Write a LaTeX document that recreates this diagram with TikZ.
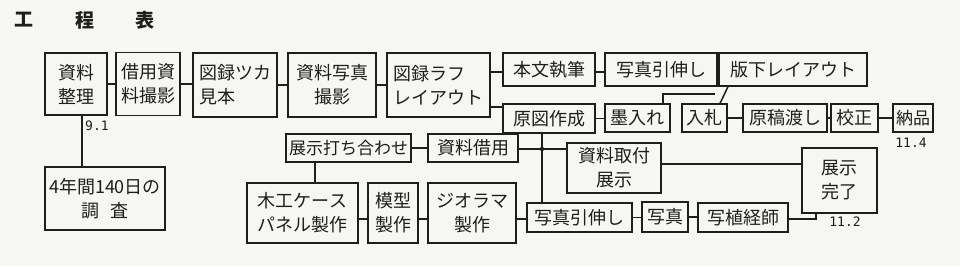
\documentclass[tikz,border=0pt]{standalone}
\usepackage{fontspec}
\newfontfamily\jp{Noto Sans CJK JP}
\newfontfamily\num{DejaVu Sans Mono}
\definecolor{paper}{RGB}{246,246,242}
\definecolor{ink}{RGB}{30,30,30}
\begin{document}
\begin{tikzpicture}[x=1pt,y=-1pt,
  box/.style={draw=ink, line width=1.2pt, inner sep=0pt, align=center, text=ink,
    font=\jp\fontsize{18}{24}\selectfont},
  lbox/.style={box, align=left},
  conn/.style={draw=ink, line width=1.5pt},
  datelbl/.style={inner sep=0pt, text=ink, font=\num\fontsize{13}{14}\selectfont},
  ttl/.style={inner sep=0pt, text=ink, font=\jp\bfseries\fontsize{19}{20}\selectfont}]
\useasboundingbox (0,0) rectangle (960,266);
\fill[paper] (0,0) rectangle (960,266);
% title
\node[ttl] (t1) at (24,20) {工};
\node[ttl] (t2) at (85,20) {程};
\node[ttl] (t3) at (145,20) {表};
% top row
\node[box, minimum width=62pt, minimum height=62pt] (A) at (76,84) {資料\\整理};
\node[box, minimum width=64pt, minimum height=63pt] (B) at (148,84) {借用資\\料撮影};
\node[lbox, minimum width=84pt, minimum height=64pt] (C) at (235,85) {図録ツカ\\見本};
\node[box, minimum width=88pt, minimum height=64pt] (D) at (332,85) {資料写真\\撮影};
\node[lbox, minimum width=103pt, minimum height=64pt] (E) at (438.5,85) {図録ラフ\\レイアウト};
\node[box, minimum width=92pt, minimum height=33pt] (F) at (549,69.5) {本文執筆};
\node[box, minimum width=92pt, minimum height=29pt] (G) at (549,118.5) {原図作成};
\node[box, minimum width=112pt, minimum height=33pt] (H) at (661,69.5) {写真引伸し};
\node[box, minimum width=148pt, minimum height=33pt] (I) at (793,69.5) {版下レイアウト};
\node[box, minimum width=65pt, minimum height=28pt] (J) at (637.5,118) {墨入れ};
\node[box, minimum width=45pt, minimum height=28pt] (K) at (704.5,118) {入札};
\node[box, minimum width=84pt, minimum height=28pt] (L) at (785,118) {原稿渡し};
\node[box, minimum width=47pt, minimum height=28pt] (M) at (854.5,118) {校正};
\node[box, minimum width=40pt, minimum height=28pt, font=\jp\fontsize{17}{20}\selectfont] (N) at (913,118) {納品};
% lower part
\node[box, minimum width=120pt, minimum height=63pt] (O) at (105,198.5) {4年間140日の\\調\hspace{0.6em}査};
\node[box, minimum width=125pt, minimum height=28pt, font=\jp\fontsize{17}{20}\selectfont] (P) at (348.5,148) {展示打ち合わせ};
\node[box, minimum width=90pt, minimum height=28pt] (Q) at (473,148) {資料借用};
\node[box, minimum width=111pt, minimum height=60pt] (R) at (302.5,213) {木工ケース\\パネル製作};
\node[box, minimum width=50pt, minimum height=60pt] (S) at (393,213) {模型\\製作};
\node[box, minimum width=88pt, minimum height=60pt] (T) at (472,213) {ジオラマ\\製作};
\node[box, minimum width=105pt, minimum height=29pt] (U) at (579.5,217.5) {写真引伸し};
\node[box, minimum width=46pt, minimum height=30pt] (V) at (665,217) {写真};
\node[box, minimum width=90pt, minimum height=29pt] (W) at (743,217.5) {写植経師};
\node[box, minimum width=94pt, minimum height=50pt] (X) at (614,168) {資料取付\\展示};
\node[box, minimum width=75pt, minimum height=65pt] (Y) at (839.5,180.5) {展示\\完了};
% date labels
\node[datelbl, anchor=west] (d1) at (85,126) {9.1};
\node[datelbl] (d2) at (911,143) {11.4};
\node[datelbl] (d3) at (845,222) {11.2};
% helper coordinates
\coordinate (y72) at (0,72);
\coordinate (y107) at (0,107);
\coordinate (y149) at (0,149);
\coordinate (y164) at (0,164);
\coordinate (y219) at (0,219);
\coordinate (jx) at (663,0);
\coordinate (jtop) at (663,94);
\coordinate (jend) at (715,94);
\coordinate (kx) at (720,0);
\coordinate (ix) at (728,0);
\coordinate (gx) at (542,0);
\coordinate (dot) at (542,149);
\coordinate (wx) at (816,219);
\coordinate (ax) at (82,0);
\coordinate (px) at (315,0);
% top row connectors
\draw[conn] (A.east) -- (A.east -| B.west);
\draw[conn] (B.east) -- (B.east -| C.west);
\draw[conn] (C.east) -- (C.east -| D.west);
\draw[conn] (D.east) -- (D.east -| E.west);
\draw[conn] (E.east |- y72) -- (F.west |- y72);
\draw[conn] (E.east |- y107) -- (G.west |- y107);
\draw[conn] (F.east |- y72) -- (H.west |- y72);
\draw[conn] (H.east |- y72) -- (I.west |- y72);
\draw[conn] (G.east) -- (G.east -| J.west);
\draw[conn] (K.east) -- (K.east -| L.west);
\draw[conn] (L.east) -- (L.east -| M.west);
\draw[conn] (M.east) -- (M.east -| N.west);
\draw[conn] (J.north -| jx) -- (jtop) -- (jend);
\draw[conn] (K.north -| kx) -- (I.south -| ix);
% lower connectors
\draw[conn] (A.south -| ax) -- (O.north -| ax);
\draw[conn] (P.east) -- (P.east -| Q.west);
\draw[conn] (P.south -| px) -- (R.north -| px);
\draw[conn] (Q.east |- y149) -- (X.west |- y149);
\draw[conn] (G.south -| gx) -- (U.north -| gx);
\fill[ink] (dot) circle (2.2pt);
\draw[conn] (X.east |- y164) -- (Y.west |- y164);
\draw[conn] (R.east |- y219) -- (S.west |- y219);
\draw[conn] (S.east |- y219) -- (T.west |- y219);
\draw[conn] (T.east |- y219) -- (U.west |- y219);
\draw[conn] (U.east) -- (U.east -| V.west);
\draw[conn] (V.east) -- (V.east -| W.west);
\draw[conn] (W.east |- y219) -- (wx) -- (Y.south -| wx);
\end{tikzpicture}
\end{document}
